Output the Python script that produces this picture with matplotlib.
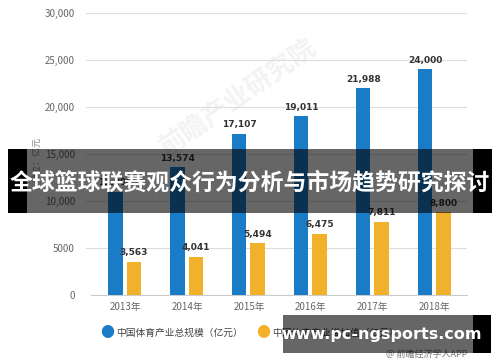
import matplotlib
matplotlib.use("Agg")
import matplotlib.pyplot as plt
from matplotlib.patches import Rectangle
import numpy as np

plt.rcParams['font.family'] = ['Noto Sans CJK SC', 'DejaVu Sans']

# Data
years = ["2013年", "2014年", "2015年", "2016年", "2017年", "2018年"]
total_scale = [11000, 13574, 17107, 19011, 21988, 24000]
added_value = [3563, 4041, 5494, 6475, 7811, 8800]
ytick_vals = [0, 5000, 10000, 15000, 20000, 25000, 30000]
ytick_labels = ["0", "5000", "10,000", "15,000", "20,000", "25,000", "30,000"]
series_names = ["中国体育产业总规模（亿元）", "中国体育产业增加值（亿元）"]

W, H = 500, 362
fig = plt.figure(figsize=(W / 100, H / 100), dpi=100)

def px(x0, y0, x1, y1):
    # pixel box -> figure fraction [left, bottom, width, height]
    return [x0 / W, 1 - y1 / H, (x1 - x0) / W, (y1 - y0) / H]

def box(x0, y0, x1, y1, **kw):
    l, b, w, h = px(x0, y0, x1, y1)
    fig.add_artist(Rectangle((l, b), w, h, transform=fig.transFigure,
                             edgecolor='none', zorder=10, **kw))

ax = fig.add_axes(px(86, 13, 467, 295))

blue = '#1a7bc6'
orange = '#f2b12b'
x = np.arange(len(years))
bw = 0.23
ax.bar(x - 0.155, total_scale, bw, color=blue, zorder=3)
ax.bar(x + 0.14, added_value, bw, color=orange, zorder=3)

for xi, v in zip(x, total_scale):
    ax.text(xi - 0.155, v + 500, f"{v:,}", ha='center', va='bottom',
            fontsize=6.5, fontweight='bold', color='#333333', zorder=4,
            family=['DejaVu Sans'])
for xi, v in zip(x, added_value):
    ax.text(xi + 0.14, v + 500, f"{v:,}", ha='center', va='bottom',
            fontsize=6.5, fontweight='bold', color='#333333', zorder=4,
            family=['DejaVu Sans'])

ax.set_xlim(-0.63, 5.52)
ax.set_ylim(0, 30000)
ax.set_yticks(ytick_vals)
ax.set_yticklabels(ytick_labels)
ax.set_xticks(x)
ax.set_xticklabels(years)
ax.tick_params(axis='both', length=0, labelsize=7, colors='#666666')
ax.tick_params(axis='x', pad=5)
ax.tick_params(axis='y', pad=8)
ax.grid(axis='y', color='#dddddd', linewidth=0.8, zorder=0)
for s in ['top', 'right', 'left']:
    ax.spines[s].set_visible(False)
ax.spines['bottom'].set_color('#cccccc')
ax.spines['bottom'].set_bounds(-0.55, 5.52)

# faint background watermark, behind the bars
ax.text(0.40, 0.70, "前瞻产业研究院", transform=ax.transAxes, rotation=35,
        ha='center', va='center', fontsize=19, color='#f3f3f3',
        fontweight='bold', zorder=1)

fig.text(37 / W, 1 - 160 / H, "单位：亿元", rotation=90, ha='center', va='center',
         fontsize=6.5, color='#888888')

# legend
fig.text(107 / W, 1 - 333 / H, "●", ha='center', va='center', fontsize=10, color=blue)
fig.text(116 / W, 1 - 333 / H, series_names[0], ha='left', va='center', fontsize=7, color='#444444')
fig.text(263 / W, 1 - 333 / H, "●", ha='center', va='center', fontsize=10, color=orange)
fig.text(272 / W, 1 - 333 / H, series_names[1], ha='left', va='center', fontsize=7, color='#444444')
fig.text(467 / W, 1 - 354 / H, "@ 前瞻经济学人APP", ha='right', va='center', fontsize=6.5, color='#777777')

# title banner overlay
box(8, 149, 492, 213, facecolor='black', alpha=0.6)
box(8, 149, 27, 213, facecolor='black')
box(473, 149, 492, 213, facecolor='black')
fig.text(250 / W, 1 - 183 / H, "全球篮球联赛观众行为分析与市场趋势研究探讨", ha='center', va='center',
         fontsize=16.5, fontweight='bold', color='white', zorder=11)

# site watermark box
box(283, 315, 473, 353, facecolor='black', alpha=0.6)
box(473, 315, 491, 353, facecolor='black')
fig.text(382 / W, 1 - 334 / H, "www.pc-ngsports.com", ha='center', va='center',
         fontsize=11.5, fontweight='bold', color='white', zorder=11, family=['DejaVu Sans'])

fig.savefig("out.png", dpi=100)
